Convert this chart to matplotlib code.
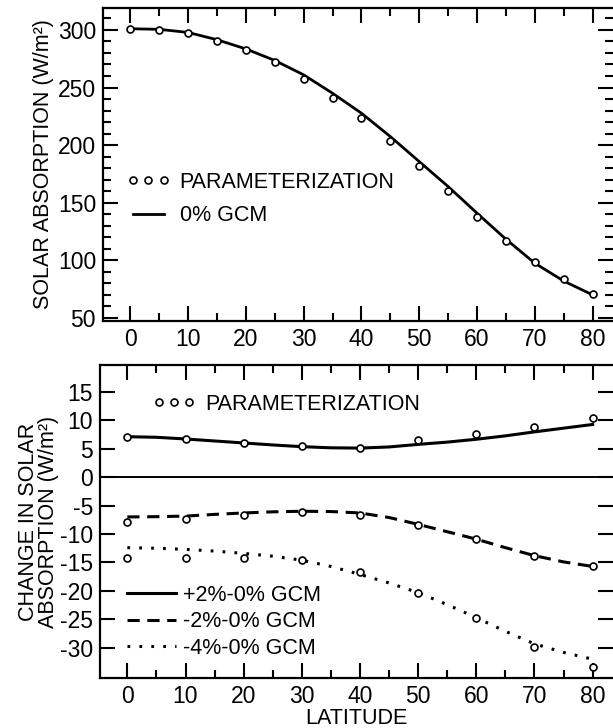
import matplotlib
matplotlib.use("Agg")
import matplotlib.pyplot as plt
from matplotlib.lines import Line2D
from matplotlib.ticker import MultipleLocator

plt.rcParams['font.family'] = ['Liberation Sans', 'DejaVu Sans']
plt.rcParams['axes.unicode_minus'] = False

# --- top panel: solar absorption, 0% case ---
lat5 = [0, 5, 10, 15, 20, 25, 30, 35, 40, 45, 50, 55, 60, 65, 70, 75, 80]
param_abs = [300.9, 300.3, 297.1, 290.5, 282.9, 272.5, 257.5, 241.2, 223.9,
             203.6, 182.2, 160.2, 137.7, 117.1, 98.6, 84.1, 70.8]
gcm_abs = [301.0, 300.5, 297.8, 291.5, 283.5, 273.5, 261.0, 245.0, 227.7,
           207.4, 185.7, 164.0, 140.9, 118.3, 97.5, 82.0, 70.0]

# --- bottom panel: change in solar absorption ---
lat10 = [0, 10, 20, 30, 40, 50, 60, 70, 80]
gcm_p2 = [7.1, 7.0, 6.7, 6.35, 6.0, 5.65, 5.35, 5.15, 5.1, 5.3, 5.75, 6.15,
          6.65, 7.25, 7.95, 8.6, 9.25]
gcm_m2 = [-7.0, -6.95, -6.85, -6.55, -6.3, -6.1, -6.0, -6.05, -6.3, -7.1,
          -8.3, -9.6, -10.9, -12.4, -13.8, -14.9, -15.7]
gcm_m4 = [-12.4, -12.5, -12.7, -13.0, -13.4, -13.9, -14.6, -15.7, -17.1,
          -18.6, -20.3, -22.4, -24.7, -27.1, -29.3, -30.8, -32.0]
par_p2 = [7.1, 6.7, 6.0, 5.4, 5.2, 6.5, 7.5, 8.8, 10.3]
par_m2 = [-7.8, -7.4, -6.7, -6.2, -6.7, -8.5, -10.8, -13.8, -15.6]
par_m4 = [-14.3, -14.2, -14.2, -14.6, -16.7, -20.3, -24.7, -29.8, -33.3]

FS = 15.5      # legend / axis label text
TFS = 16.5     # tick labels
mk = dict(ls='none', marker='o', mfc='white', mec='black', ms=5, mew=1.2, zorder=3)
dash = (0, (4, 2.5))
dots = (0, (0.9, 3.0))

fig = plt.figure(figsize=(6.13, 7.28), dpi=100)
ax1 = fig.add_axes([103/613, 1-321/728, 1-103/613, 313/728])
ax2 = fig.add_axes([100/613, 1-678/728, 1-100/613, 313/728])

def style(ax):
    ax.xaxis.set_major_locator(MultipleLocator(10))
    ax.xaxis.set_minor_locator(MultipleLocator(5))
    ax.tick_params(which='both', direction='in', top=True, right=True,
                   labelsize=TFS, width=1.5, pad=5)
    ax.tick_params(which='major', length=11)
    ax.tick_params(which='minor', length=6)
    for s in ax.spines.values():
        s.set_linewidth(1.6)
    ax.spines['right'].set_visible(False)
    ax.set_xlim(-4.7, 83.5)

# top
ax1.plot(lat5, gcm_abs, color='black', lw=2.0)
ax1.plot(lat5, param_abs, **mk)
style(ax1)
ax1.set_ylim(47.4, 319)
ax1.yaxis.set_major_locator(MultipleLocator(50))
ax1.yaxis.set_minor_locator(MultipleLocator(10))
ax1.set_ylabel('SOLAR ABSORPTION (W/m²)', fontsize=FS, labelpad=3)
h_par = Line2D([], [], **mk)
h_gcm = Line2D([], [], color='black', lw=2.0)
ax1.legend([h_par, h_gcm], ['PARAMETERIZATION', '0% GCM'], numpoints=3,
           frameon=False, fontsize=FS, loc='upper left',
           bbox_to_anchor=(0.03, 0.505), handlelength=2.0, handletextpad=0.45,
           labelspacing=0.6, borderaxespad=0)

# bottom
ax2.axhline(0, color='black', lw=1.4)
ax2.plot(lat5, gcm_p2, color='black', lw=2.2, ls='-')
ax2.plot(lat5, gcm_m2, color='black', lw=2.2, ls=dash)
ax2.plot(lat5, gcm_m4, color='black', lw=2.2, ls=dots)
ax2.plot(lat10, par_p2, **mk)
ax2.plot(lat10, par_m2, **mk)
ax2.plot(lat10, par_m4, **mk)
style(ax2)
ax2.set_ylim(-35.3, 19.7)
ax2.set_yticks([15, 10, 5, 0, -5, -10, -15, -20, -25, -30])
ax2.set_ylabel('CHANGE IN SOLAR\nABSORPTION (W/m²)', fontsize=FS, labelpad=1,
               linespacing=0.9)
ax2.set_xlabel('LATITUDE', fontsize=FS, labelpad=0)

leg1 = ax2.legend([h_par], ['PARAMETERIZATION'], numpoints=3, frameon=False,
                  fontsize=FS, loc='upper left', bbox_to_anchor=(0.085, 0.935),
                  handlelength=2.0, handletextpad=0.45, borderaxespad=0)
ax2.add_artist(leg1)
hs = [Line2D([], [], color='black', lw=2.2, ls='-'),
      Line2D([], [], color='black', lw=2.2, ls=dash),
      Line2D([], [], color='black', lw=2.2, ls=dots)]
ax2.legend(hs, ['+2%-0% GCM', '-2%-0% GCM', '-4%-0% GCM'], frameon=False,
           fontsize=FS, loc='upper left', bbox_to_anchor=(0.035, 0.325),
           handlelength=2.3, handletextpad=0.3, labelspacing=0.25,
           borderaxespad=0)

fig.savefig('out.png', dpi=100)
